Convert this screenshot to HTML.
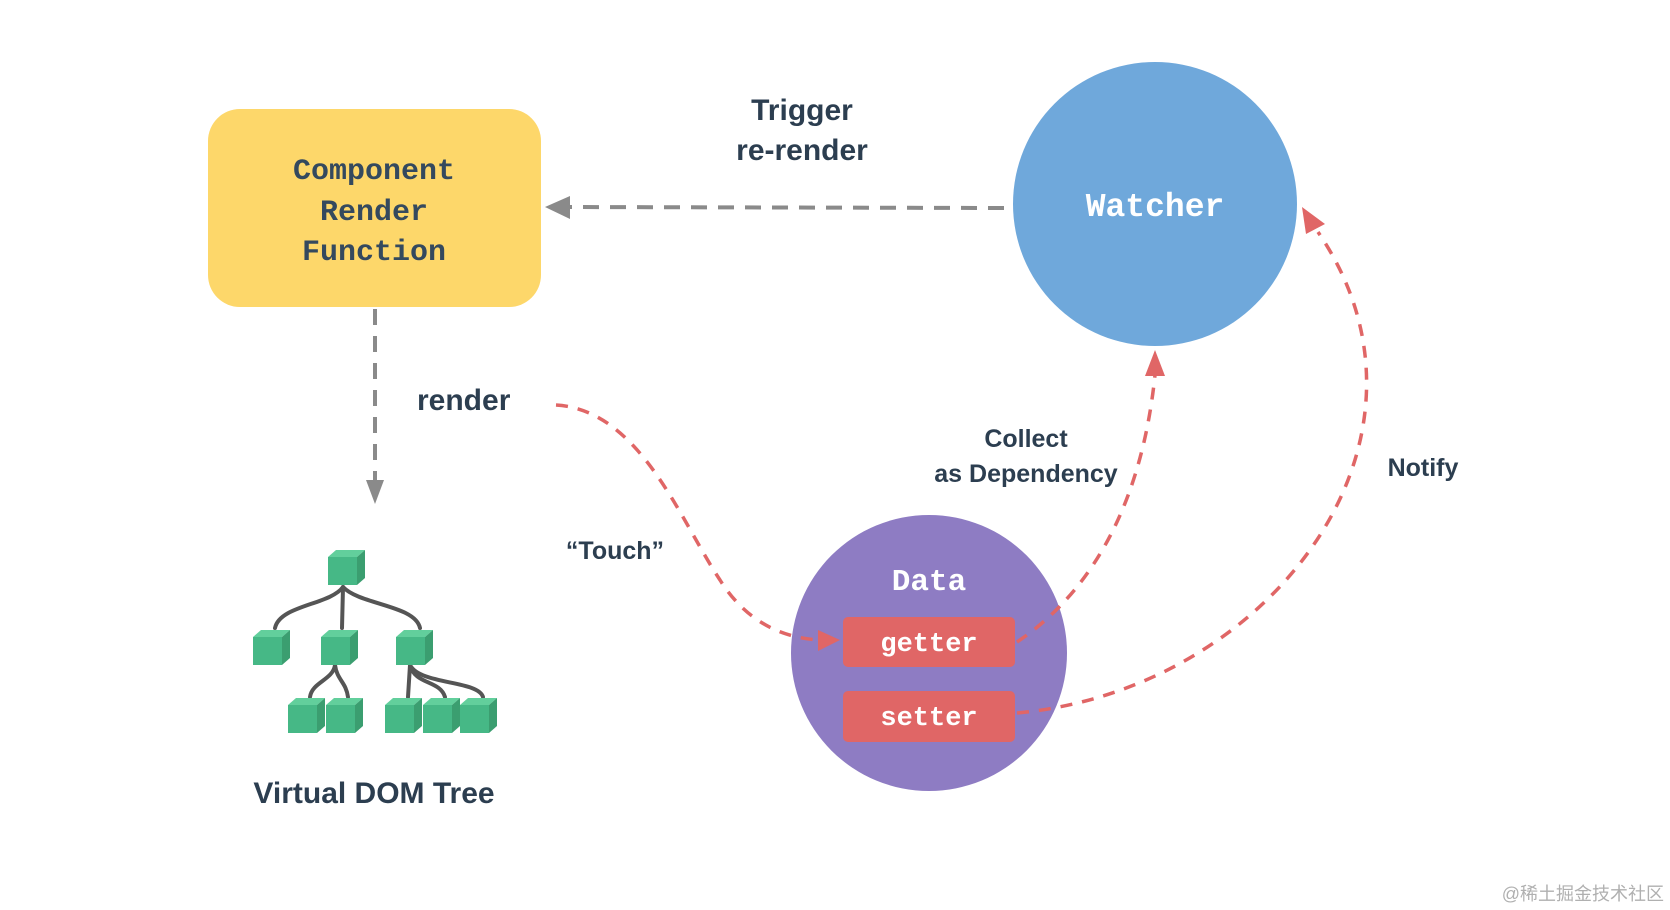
<!DOCTYPE html>
<html><head><meta charset="utf-8"><style>
html,body{margin:0;padding:0;background:#fff;}
svg{display:block;}
.mono{font-family:"Liberation Mono",monospace;font-weight:bold;}
.sans{font-family:"Liberation Sans",sans-serif;font-weight:bold;fill:#2c3e50;}
</style></head><body>
<svg width="1670" height="910" viewBox="0 0 1670 910" xmlns="http://www.w3.org/2000/svg">
<defs>
<g id="cube">
<polygon points="0,0 8,-7 37,-7 29,0" fill="#62cf9c"/>
<polygon points="29,0 37,-7 37,21 29,28" fill="#3b9e70"/>
<rect x="0" y="0" width="29" height="28" fill="#46b886"/>
</g>
</defs>

<rect x="208" y="109" width="333" height="198" rx="32" fill="#fdd76a"/>
<text class="mono" font-size="30" fill="#34495e" text-anchor="middle" x="374" y="179">Component</text>
<text class="mono" font-size="30" fill="#34495e" text-anchor="middle" x="374" y="220">Render</text>
<text class="mono" font-size="30" fill="#34495e" text-anchor="middle" x="374" y="260">Function</text>

<circle cx="1155" cy="204" r="142" fill="#6fa8db"/>
<text class="mono" font-size="33" fill="#fff" text-anchor="middle" x="1155" y="216">Watcher</text>

<line x1="1004" y1="208" x2="565" y2="207" stroke="#8a8a8a" stroke-width="4" stroke-dasharray="16,11"/>
<polygon points="545,207 570,196 570,219" fill="#8a8a8a"/>
<text class="sans" font-size="30" text-anchor="middle" x="802" y="120">Trigger</text>
<text class="sans" font-size="30" text-anchor="middle" x="802" y="160">re-render</text>

<line x1="375" y1="309" x2="375" y2="482" stroke="#8a8a8a" stroke-width="4" stroke-dasharray="16,11"/>
<polygon points="366,480 384,480 375,504" fill="#8a8a8a"/>
<text class="sans" font-size="30" x="417" y="410">render</text>
<text class="sans" font-size="25" text-anchor="middle" x="615" y="559">“Touch”</text>

<circle cx="929" cy="653" r="138" fill="#8e7cc3"/>
<text class="mono" font-size="31" fill="#fff" text-anchor="middle" x="929" y="590">Data</text>
<rect x="843" y="617" width="172" height="50" rx="5" fill="#e06666"/>
<text class="mono" font-size="27" fill="#fff" text-anchor="middle" x="929" y="651">getter</text>
<rect x="843" y="691" width="172" height="51" rx="5" fill="#e06666"/>
<text class="mono" font-size="27" fill="#fff" text-anchor="middle" x="929" y="725">setter</text>

<g fill="none" stroke="#e06666" stroke-width="3.5" stroke-dasharray="12,10">
<path d="M556,405 C640,410 680,520 720,580 C745,620 780,638 820,640"/>
<path d="M1017,642 C1080,600 1140,520 1155,375"/>
<path d="M1017,713 C1270,690 1460,440 1318,232"/>
</g>
<polygon points="840,640 818,630 818,651" fill="#e06666"/>
<polygon points="1155,350 1145,376 1165,376" fill="#e06666"/>
<polygon points="1302,207 1306,234 1325,224" fill="#e06666"/>

<text class="sans" font-size="25" text-anchor="middle" x="1026" y="447">Collect</text>
<text class="sans" font-size="25" text-anchor="middle" x="1026" y="482">as Dependency</text>
<text class="sans" font-size="25" text-anchor="middle" x="1423" y="476">Notify</text>

<g fill="none" stroke="#555" stroke-width="4" stroke-linecap="round">
<path d="M343,587 C330,605 280,605 275,628"/>
<path d="M343,587 L342,628"/>
<path d="M343,587 C360,605 415,605 420,628"/>
<path d="M335,665 C333,680 312,682 310,697"/>
<path d="M335,665 C337,680 346,682 348,697"/>
<path d="M410,665 L408,697"/>
<path d="M410,665 C415,685 440,680 445,697"/>
<path d="M410,665 C420,685 478,680 483,697"/>
</g>
<use href="#cube" x="328" y="557"/>
<use href="#cube" x="253" y="637"/>
<use href="#cube" x="321" y="637"/>
<use href="#cube" x="396" y="637"/>
<use href="#cube" x="288" y="705"/>
<use href="#cube" x="326" y="705"/>
<use href="#cube" x="385" y="705"/>
<use href="#cube" x="423" y="705"/>
<use href="#cube" x="460" y="705"/>
<text class="sans" font-size="30" text-anchor="middle" x="374" y="803">Virtual DOM Tree</text>

<text x="1664" y="900" text-anchor="end" font-family="'Liberation Sans','Noto Sans CJK SC',sans-serif" font-size="18" fill="#b0b0b0">@稀土掘金技术社区</text>
</svg>
</body></html>
